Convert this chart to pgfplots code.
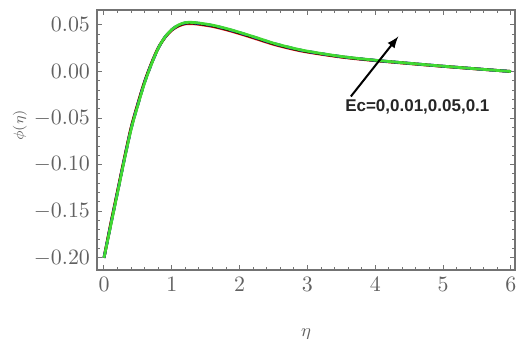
\documentclass[border=0pt]{standalone}
\usepackage{fontspec}
\usepackage{pgfplots}
\pgfplotsset{compat=1.18}
\newfontfamily\arialb{Liberation Sans}
\definecolor{axgray}{rgb}{0.45,0.45,0.45}
\definecolor{tickgray}{rgb}{0.38,0.38,0.38}
\definecolor{mred}{rgb}{0.9,0.1,0.1}
\definecolor{mblue}{rgb}{0.1,0.1,0.85}
\definecolor{mgreen}{rgb}{0.25,0.85,0.2}
\begin{document}
\begin{tikzpicture}
\begin{axis}[
  scale only axis,
  width=209pt, height=130pt,
  xmin=-0.103, xmax=6.06,
  ymin=-0.213, ymax=0.066,
  axis line style={axgray, line width=0.6pt},
  tick style={axgray, line width=0.5pt},
  major tick length=2.6pt,
  minor tick length=1.5pt,
  tick align=inside,
  xtick={0,1,2,3,4,5,6},
  ytick={-0.2,-0.15,-0.1,-0.05,0,0.05},
  minor x tick num=4,
  minor y tick num=4,
  xticklabel style={font=\fontsize{11}{13}\selectfont, text=tickgray},
  yticklabel style={font=\fontsize{11}{13}\selectfont, text=tickgray, /pgf/number format/.cd, fixed, fixed zerofill, precision=2},
  scaled y ticks=false,
  xlabel={$\eta$},
  every axis x label/.style={at={(rel axis cs:0.5,0)}, anchor=center, yshift=-32pt, font=\fontsize{9}{11}\selectfont, text=tickgray},
  ylabel={$\phi(\eta)$},
  every axis y label/.style={at={(rel axis cs:0,0.556)}, xshift=-38.5pt, anchor=center, rotate=90, font=\fontsize{7.5}{9}\selectfont, text=tickgray},
  clip=false,
]
\coordinate (SW) at (rel axis cs:0,0);
\coordinate (NE) at (rel axis cs:1,1);
% Ec = 0 (red)
\addplot[mred, line width=1.4pt, smooth] coordinates {
(0,-0.200) (0.1,-0.163) (0.2,-0.128) (0.3,-0.093) (0.4,-0.060) (0.5,-0.034)
(0.6,-0.0105) (0.7,0.009) (0.8,0.0255) (0.9,0.0365) (1.0,0.0443) (1.1,0.0488)
(1.2,0.0511) (1.3,0.0513) (1.4,0.0506) (1.6,0.0483) (1.8,0.0448) (2.0,0.0406)
(2.25,0.0349) (2.5,0.0291) (2.75,0.0245) (3.0,0.0208) (3.5,0.0154) (4.0,0.0116)
(4.5,0.0085) (5.0,0.0055) (5.5,0.0027) (6.0,0.0)};
% Ec = 0.01 (black)
\addplot[black, line width=1.4pt, smooth] coordinates {
(0,-0.200) (0.1,-0.164) (0.2,-0.129) (0.3,-0.094) (0.4,-0.061) (0.5,-0.035)
(0.6,-0.011) (0.7,0.0085) (0.8,0.025) (0.9,0.0368) (1.0,0.0447) (1.1,0.0494)
(1.2,0.0518) (1.3,0.0520) (1.4,0.0513) (1.6,0.0490) (1.8,0.0455) (2.0,0.0413)
(2.25,0.0356) (2.5,0.0298) (2.75,0.0251) (3.0,0.0213) (3.5,0.0158) (4.0,0.0119)
(4.5,0.0087) (5.0,0.0056) (5.5,0.0028) (6.0,0.0)};
% Ec = 0.05 (blue dashed)
\addplot[mblue, line width=1.4pt, dashed, smooth] coordinates {
(0,-0.200) (0.1,-0.1645) (0.2,-0.1295) (0.3,-0.0945) (0.4,-0.0615) (0.5,-0.0355)
(0.6,-0.0115) (0.7,0.008) (0.8,0.025) (0.9,0.037) (1.0,0.045) (1.1,0.0498)
(1.2,0.0522) (1.3,0.0524) (1.4,0.0517) (1.6,0.0494) (1.8,0.0459) (2.0,0.0417)
(2.25,0.0360) (2.5,0.0302) (2.75,0.0255) (3.0,0.0216) (3.5,0.0160) (4.0,0.0120)
(4.5,0.0088) (5.0,0.0057) (5.5,0.0028) (6.0,0.0)};
% Ec = 0.1 (green)
\addplot[mgreen, line width=1.4pt, smooth] coordinates {
(0,-0.200) (0.1,-0.165) (0.2,-0.130) (0.3,-0.095) (0.4,-0.062) (0.5,-0.036)
(0.6,-0.012) (0.7,0.008) (0.8,0.025) (0.9,0.037) (1.0,0.045) (1.1,0.050)
(1.2,0.0525) (1.3,0.0527) (1.4,0.0520) (1.6,0.0497) (1.8,0.0462) (2.0,0.0420)
(2.25,0.0363) (2.5,0.0304) (2.75,0.0257) (3.0,0.0218) (3.5,0.0161) (4.0,0.0121)
(4.5,0.0088) (5.0,0.0057) (5.5,0.0028) (6.0,0.0)};
\draw[black, line width=1pt, -latex] (axis cs:3.64,-0.0268) -- (axis cs:4.34,0.0376);
\node[font=\arialb\bfseries\fontsize{8.5}{10}\selectfont, text=black!85] at (axis cs:4.62,-0.0376) {Ec=0,0.01,0.05,0.1};
\end{axis}
\pgfresetboundingbox
\path ([xshift=-48.5pt,yshift=-34.5pt]SW) rectangle ([xshift=1pt,yshift=5pt]NE);
\end{tikzpicture}
\end{document}
